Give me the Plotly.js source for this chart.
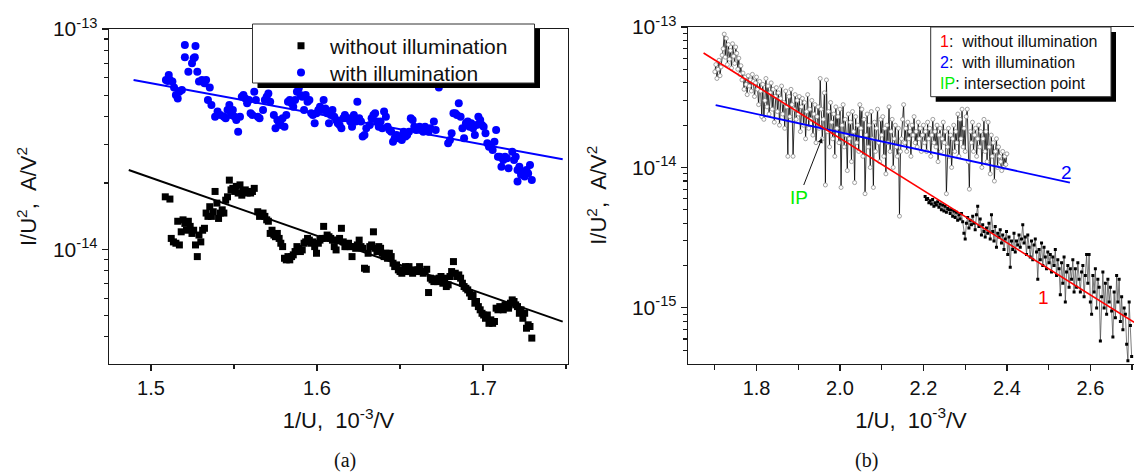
<!DOCTYPE html>
<html>
<head>
<meta charset="utf-8">
<script src="https://cdn.plot.ly/plotly-3.0.1.min.js"></script>
<style>html,body{margin:0;padding:0;background:#fff;}#chart{width:1134px;height:473px;}</style>
</head>
<body>
<div id="chart"></div>
<script>
// ---------- Panel (a) data: I/U^2 in units of 1e-14 A/V^2 ----------
const UNIT_A = 1e-14;
const noIllumX = [1.5086,1.5114,1.5122,1.5135,1.5150,1.5161,1.5171,1.5182,1.5193,1.5204,1.5214,1.5225,1.5236,1.5247,1.5257,1.5268,1.5279,1.5289,1.5300,1.5311,1.5322,1.5332,1.5343,1.5354,1.5364,1.5375,1.5386,1.5397,1.5407,1.5418,1.5429,1.5439,1.5450,1.5461,1.5472,1.5482,1.5493,1.5504,1.5514,1.5525,1.5536,1.5547,1.5557,1.5568,1.5579,1.5590,1.5600,1.5611,1.5622,
1.5643,1.5654,1.5665,1.5675,1.5686,1.5697,1.5707,1.5718,1.5729,1.5740,1.5750,1.5761,1.5772,1.5782,1.5793,1.5804,1.5815,1.5825,1.5836,1.5847,1.5857,1.5868,1.5879,1.5890,1.5900,1.5911,1.5922,1.5932,1.5943,1.5954,1.5965,1.5975,1.5986,1.5997,1.6008,1.6018,1.6029,1.6040,1.6050,1.6061,1.6072,1.6083,1.6093,1.6104,1.6115,1.6125,1.6136,1.6147,1.6158,1.6168,1.6179,1.6190,1.6200,1.6211,1.6222,1.6233,1.6243,1.6254,1.6265,1.6275,1.6286,1.6297,1.6308,1.6318,1.6329,1.6340,1.6350,1.6361,1.6372,1.6383,1.6393,1.6404,1.6415,1.6425,1.6436,1.6447,1.6458,1.6468,1.6479,1.6490,1.6500,1.6511,1.6522,1.6533,1.6543,1.6554,1.6565,1.6576,1.6586,1.6597,1.6608,1.6618,1.6629,1.6640,1.6651,1.6661,1.6672,1.6683,1.6693,1.6704,1.6715,1.6726,1.6736,1.6747,1.6758,1.6768,1.6779,1.6790,1.6801,1.6811,1.6822,1.6833,1.6843,1.6854,1.6865,1.6876,1.6886,1.6897,1.6908,1.6919,1.6929,1.6940,1.6951,1.6961,1.6972,1.6983,1.6994,1.7004,1.7015,1.7026,1.7036,1.7047,1.7058,1.7069,1.7079,1.7090,1.7101,1.7111,1.7122,1.7133,1.7144,1.7154,1.7165,1.7176,1.7187,1.7197,1.7208,1.7219,1.7229,1.7240,1.7251,1.7262,1.7272,1.7283,1.7294];
const noIllumY = [1.73,1.69,1.12,1.08,1.065,1.34,1.046,1.20,1.36,1.31,1.22,1.34,1.27,1.18,1.22,1.046,0.926,1.16,1.08,1.22,1.245,1.46,1.41,1.56,1.41,1.48,1.83,1.62,1.38,1.46,1.51,1.46,1.67,1.73,2.06,1.86,1.89,1.83,1.93,1.80,1.96,1.76,1.83,1.86,1.80,1.83,1.80,1.83,1.89,
1.48,1.41,1.43,1.46,1.41,1.36,1.34,1.18,1.22,1.16,1.14,1.18,1.12,1.065,1.028,0.91,0.895,0.926,0.895,0.926,0.943,0.976,1.028,1.01,0.976,0.993,1.065,1.08,1.12,1.10,1.065,1.08,1.028,0.959,1.065,1.10,1.12,1.27,1.12,1.16,1.14,1.12,1.10,1.028,0.993,1.10,1.12,1.245,1.08,1.028,1.028,1.065,1.028,0.926,1.028,1.01,1.046,1.10,1.028,1.01,0.82,0.811,0.959,1.028,1.046,1.20,1.01,0.976,1.028,1.01,0.959,0.926,0.959,0.91,0.959,0.926,0.864,0.834,0.849,0.806,0.792,0.778,0.806,0.834,0.792,0.834,0.792,0.778,0.806,0.792,0.806,0.834,0.792,0.778,0.792,0.811,0.636,0.739,0.726,0.713,0.734,0.713,0.739,0.752,0.701,0.739,0.677,0.689,0.752,0.792,0.879,0.778,0.752,0.765,0.739,0.701,0.677,0.665,0.654,0.633,0.61,0.62,0.569,0.579,0.549,0.531,0.512,0.503,0.486,0.503,0.461,0.478,0.461,0.47,0.54,0.531,0.549,0.54,0.531,0.559,0.549,0.54,0.569,0.589,0.579,0.559,0.549,0.512,0.531,0.486,0.512,0.438,0.454,0.446,0.395];

const illumX = [1.5090,1.5101,1.5107,1.5114,1.5129,1.5139,1.5150,1.5161,1.5171,1.5186,1.5204,1.5204,1.5225,1.5247,1.5257,1.5264,1.5268,1.5279,1.5289,1.5307,1.5322,1.5332,1.5343,1.5354,1.5364,1.5386,1.5401,1.5418,1.5439,1.5450,1.5461,1.5472,1.5482,1.5493,1.5504,1.5514,1.5525,1.5536,1.5547,1.5557,1.5568,1.5579,1.5590,1.5600,1.5611,1.5622,1.5632,1.5643,1.5654,1.5675,1.5686,1.5697,1.5707,1.5718,1.5740,1.5750,1.5761,1.5772,1.5782,1.5793,1.5804,1.5815,1.5825,1.5836,1.5847,1.5857,1.5868,1.5879,1.5890,1.5900,1.5911,1.5922,1.5932,1.5943,1.5954,1.5965,1.5975,1.5986,1.5997,1.6008,1.6018,1.6029,1.6040,1.6050,1.6061,1.6072,1.6083,1.6093,1.6104,1.6115,1.6125,1.6136,1.6147,1.6158,1.6168,1.6179,1.6190,1.6200,1.6211,1.6222,1.6233,1.6243,1.6254,1.6265,1.6275,1.6286,1.6297,1.6318,1.6329,1.6340,1.6350,1.6361,1.6372,1.6383,1.6393,1.6404,1.6415,1.6425,1.6436,1.6447,1.6458,1.6468,1.6479,1.6490,1.6500,1.6511,1.6522,1.6533,1.6543,1.6554,1.6565,1.6576,1.6586,1.6597,1.6608,1.6618,1.6629,1.6640,1.6651,1.6661,1.6672,1.6683,1.6704,1.6715,1.6734,1.6790,1.6801,1.6811,1.6822,1.6833,1.6843,1.6854,1.6865,1.6876,1.6886,1.6897,1.6908,1.6919,1.6929,1.6940,1.6951,1.6961,1.6972,1.6983,1.6994,1.7004,1.7015,1.7026,1.7036,1.7047,1.7058,1.7069,1.7079,1.7090,1.7101,1.7111,1.7122,1.7133,1.7144,1.7154,1.7176,1.7187,1.7197,1.7208,1.7219,1.7229,1.7240,1.7251,1.7262,1.7272,1.7283,1.7294,1.7208];
const illumY = [5.87,5.81,6.18,5.87,5.77,5.43,5.02,4.84,5.19,5.28,8.46,7.44,6.40,6.99,7.36,7.44,8.38,6.40,5.77,5.87,5.67,5.87,4.76,5.43,4.52,4.00,4.22,4.07,4.00,3.93,4.29,4.52,4.07,4.29,4.00,3.86,3.42,4.00,4.93,5.02,4.84,4.60,4.76,4.14,4.07,5.19,4.76,4.00,3.93,4.29,4.76,4.93,5.10,4.68,4.07,3.54,3.86,3.73,3.67,3.93,3.60,4.07,4.68,4.76,4.60,4.44,4.76,5.19,5.38,5.02,4.93,4.29,5.02,4.68,4.76,4.14,4.07,3.73,4.14,4.29,4.44,4.29,4.76,4.36,4.14,3.73,4.07,4.29,4.00,3.86,3.73,3.67,3.54,3.93,4.07,3.93,3.93,3.80,3.60,4.07,3.80,4.68,3.93,3.80,3.25,3.30,3.54,3.67,3.93,4.07,4.14,3.80,3.60,3.80,3.54,4.22,4.00,3.60,3.48,3.42,3.08,3.19,3.30,3.19,3.25,3.13,3.42,3.25,3.30,3.42,3.93,3.86,3.60,3.48,3.54,3.60,3.54,3.42,3.60,3.48,3.42,3.54,3.80,3.48,5.43,3.03,3.13,3.36,4.14,4.14,4.07,4.60,4.00,3.54,3.19,3.73,3.80,3.60,3.73,3.54,3.30,3.67,4.00,3.86,3.67,3.60,3.36,3.03,2.92,2.97,2.82,3.08,3.48,2.63,2.63,2.37,2.54,2.63,2.59,2.33,2.77,2.54,2.63,2.29,2.37,2.18,2.25,2.14,2.29,2.21,2.41,2.06,2.03];

// linear fits (end points), panel (a)
const fitNoIllumX = [1.4866, 1.748];
const fitNoIllumY = [2.29e-14, 4.69e-15];
const fitIllumX = [1.4895, 1.748];
const fitIllumY = [5.87e-14, 2.56e-14];

// ---------- Panel (b) data ----------
// series with open circles, values in 1e-14 A/V^2
const UNIT_B1 = 1e-14;
const seriesOpenX = [
1.7000,1.7025,1.7050,1.7075,1.7100,1.7125,1.7150,1.7175,1.7200,1.7225,1.7250,1.7275,1.7300,1.7325,1.7350,1.7375,1.7400,1.7425,1.7450,1.7475,
1.7500,1.7525,1.7550,1.7575,1.7600,1.7625,1.7650,1.7675,1.7700,1.7725,1.7750,1.7775,1.7800,1.7825,1.7850,1.7875,1.7900,1.7925,1.7950,1.7975,
1.8000,1.8025,1.8050,1.8075,1.8100,1.8125,1.8150,1.8175,1.8200,1.8225,1.8250,1.8275,1.8300,1.8325,1.8350,1.8375,1.8400,1.8425,1.8450,1.8475,
1.8500,1.8525,1.8550,1.8575,1.8600,1.8625,1.8650,1.8675,1.8700,1.8725,1.8750,1.8775,1.8800,1.8825,1.8850,1.8875,1.8900,1.8925,1.8950,1.8975,
1.9000,1.9025,1.9050,1.9075,1.9100,1.9125,1.9150,1.9175,1.9200,1.9225,1.9250,1.9275,1.9300,1.9325,1.9350,1.9375,1.9400,1.9425,1.9450,1.9475,
1.9500,1.9525,1.9550,1.9575,1.9600,1.9625,1.9650,1.9675,1.9700,1.9725,1.9750,1.9775,1.9800,1.9825,1.9850,1.9875,1.9900,1.9925,1.9950,1.9975,
2.0000,2.0025,2.0050,2.0075,2.0100,2.0125,2.0150,2.0175,2.0200,2.0225,2.0250,2.0275,2.0300,2.0325,2.0350,2.0375,2.0400,2.0425,2.0450,2.0475,
2.0500,2.0525,2.0550,2.0575,2.0600,2.0625,2.0650,2.0675,2.0700,2.0725,2.0750,2.0775,2.0800,2.0825,2.0850,2.0875,2.0900,2.0925,2.0950,2.0975,
2.1000,2.1025,2.1050,2.1075,2.1100,2.1125,2.1150,2.1175,2.1200,2.1225,2.1250,2.1275,2.1300,2.1325,2.1350,2.1375,2.1400,2.1425,2.1450,2.1475,
2.1500,2.1525,2.1550,2.1575,2.1600,2.1625,2.1650,2.1675,2.1700,2.1725,2.1750,2.1775,2.1800,2.1825,2.1850,2.1875,2.1900,2.1925,2.1950,2.1975,
2.2000,2.2025,2.2050,2.2075,2.2100,2.2125,2.2150,2.2175,2.2200,2.2225,2.2250,2.2275,2.2300,2.2325,2.2350,2.2375,2.2400,2.2425,2.2450,2.2475,
2.2500,2.2525,2.2550,2.2575,2.2600,2.2625,2.2650,2.2675,2.2700,2.2725,2.2750,2.2775,2.2800,2.2825,2.2850,2.2875,2.2900,2.2925,2.2950,2.2975,
2.3000,2.3025,2.3050,2.3075,2.3100,2.3125,2.3150,2.3175,2.3200,2.3225,2.3250,2.3275,2.3300,2.3325,2.3350,2.3375,2.3400,2.3425,2.3450,2.3475,
2.3500,2.3525,2.3550,2.3575,2.3600,2.3625,2.3650,2.3675,2.3700,2.3725,2.3750,2.3775,2.3800,2.3825,2.3850,2.3875,2.3900,2.3925,2.3950,2.3975,
2.4000];
const seriesOpenY = [
4.8,5.4,4.3,5.0,5.8,4.5,5.2,6.3,7.0,8.9,6.1,8.3,5.4,7.5,5.9,6.8,5.1,7.6,6.2,5.5,
7.2,6.5,5.0,6.0,4.6,5.3,4.2,4.7,3.6,4.4,3.9,3.3,4.5,3.8,4.2,3.5,4.6,4.1,3.2,4.0,
4.4,3.6,2.8,4.1,3.5,2.3,3.9,2.2,3.0,4.3,2.7,3.8,2.4,3.4,4.0,2.6,3.6,2.1,3.2,3.7,
2.5,3.4,2.0,3.1,3.8,2.4,2.9,1.9,3.5,2.7,1.2,3.2,2.3,3.6,2.8,1.2,2.6,3.3,2.2,3.0,
2.4,3.2,1.8,2.7,3.1,2.0,2.9,1.6,2.5,3.3,1.9,2.6,2.2,3.0,1.7,2.4,2.8,1.5,2.3,2.7,
1.9,4.3,2.6,1.6,2.2,3.4,0.75,4.2,1.8,2.5,1.4,2.9,2.1,1.6,2.4,1.2,2.7,1.9,2.3,1.5,
2.6,0.72,2.0,2.8,1.4,2.2,1.7,0.95,2.4,1.6,2.1,1.1,2.5,1.8,0.78,2.3,1.5,2.0,1.3,2.8,
1.9,2.6,1.2,2.2,0.65,1.7,2.4,1.4,2.0,1.0,2.5,1.6,0.72,2.1,1.3,1.9,2.6,1.5,1.1,2.2,
1.7,2.3,1.2,1.9,0.9,2.0,1.5,2.7,1.3,1.8,2.2,1.0,1.6,2.0,1.4,1.2,1.9,0.45,1.3,1.6,
2.2,2.8,1.5,1.9,1.3,2.1,1.6,1.8,1.2,2.0,1.7,2.3,1.5,1.8,1.4,2.1,1.6,1.9,1.3,1.7,
2.0,1.5,1.8,1.3,2.1,1.6,1.9,1.2,1.7,2.2,1.5,1.8,1.4,2.0,1.1,1.7,1.9,1.3,1.6,2.1,
1.5,1.8,0.65,1.4,1.9,1.2,1.7,1.0,1.6,2.0,1.3,1.8,1.5,2.4,1.2,2.2,1.6,2.6,1.4,1.9,
1.3,2.3,2.6,1.1,0.7,1.8,1.5,2.1,1.3,1.7,1.9,1.2,1.6,2.0,1.4,1.8,1.0,1.6,2.2,1.3,
1.8,1.1,2.1,1.4,0.9,1.7,1.2,1.5,0.8,1.3,1.6,1.0,1.4,1.2,1.1,0.95,1.3,1.0,1.2,1.05,
1.25];

// series with filled squares, values in 1e-15 A/V^2
const UNIT_B2 = 1e-15;
const seriesFilledX = [
2.204,2.207,2.210,2.213,2.216,2.219,2.222,2.225,2.228,2.231,
2.234,2.237,2.240,2.243,2.246,2.249,2.252,2.255,2.258,2.261,
2.264,2.267,2.270,2.273,2.276,2.279,2.282,2.285,2.288,2.291,
2.294,2.297,2.300,2.303,2.306,2.309,2.312,2.315,2.318,2.321,
2.324,2.327,2.330,2.333,2.336,2.339,2.342,2.345,2.348,2.351,
2.354,2.357,2.360,2.363,2.366,2.369,2.372,2.375,2.378,2.381,
2.384,2.387,2.390,2.393,2.396,2.399,2.402,2.405,2.408,2.411,
2.414,2.417,2.420,2.423,2.426,2.429,2.432,2.435,2.438,2.441,
2.444,2.447,2.450,2.453,2.456,2.459,2.462,2.465,2.468,2.471,
2.474,2.477,2.480,2.483,2.486,2.489,2.492,2.495,2.498,2.501,
2.504,2.507,2.510,2.513,2.516,2.519,2.522,2.525,2.528,2.531,
2.534,2.537,2.540,2.543,2.546,2.549,2.552,2.555,2.558,2.561,
2.564,2.567,2.570,2.573,2.576,2.579,2.582,2.585,2.588,2.591,
2.594,2.597,2.600,2.603,2.606,2.609,2.612,2.615,2.618,2.621,
2.624,2.627,2.630,2.633,2.636,2.639,2.642,2.645,2.648,2.651,
2.654,2.657,2.660,2.663,2.666,2.669,2.672,2.675,2.678,2.681,
2.684,2.687,2.690,2.693,2.696,2.699];
const seriesFilledY = [
6.2,5.9,6.0,5.6,5.8,5.5,5.9,5.3,5.6,5.4,
5.7,5.2,5.5,5.0,5.4,4.9,5.3,4.8,5.1,5.0,
4.7,5.0,4.5,4.9,4.4,4.8,4.2,4.6,4.3,4.7,
4.1,3.4,3.1,4.0,4.4,3.7,4.2,3.9,4.5,4.0,
3.6,4.6,5.3,3.8,4.3,3.3,3.9,3.5,3.2,3.7,
3.4,4.0,3.1,4.6,3.5,3.0,3.8,2.7,3.4,3.2,
3.6,2.9,3.3,2.6,3.1,3.5,2.4,3.2,1.95,3.0,
2.6,3.4,2.5,3.0,2.8,3.3,2.7,3.1,3.9,2.9,
3.2,2.4,3.3,2.7,2.3,3.0,2.2,2.8,3.1,2.5,
1.6,2.6,2.2,2.9,2.0,2.7,2.3,1.9,2.5,2.1,
2.4,1.8,2.3,2.0,2.6,1.7,2.2,1.9,1.24,2.1,
1.5,2.3,1.1,1.8,2.0,1.4,1.9,1.6,2.2,1.3,
1.9,1.4,2.1,1.6,1.3,1.8,2.0,1.2,1.7,2.4,
1.5,2.4,1.1,0.9,1.7,1.3,1.9,1.0,1.6,1.4,
0.58,1.2,1.8,1.0,1.5,0.9,1.6,1.1,1.4,0.95,
0.62,1.3,0.85,1.7,1.1,1.6,0.8,1.2,0.7,1.0,
0.9,0.55,0.42,1.1,0.75,0.45];

// linear fits (end points), panel (b)
const fit1X = [1.673, 2.705];
const fit1Y = [6.53e-14, 7.9e-16];
const fit2X = [1.702, 2.551];
const fit2Y = [2.78e-14, 7.8e-15];

// tick labels
const xTicksA = [1.5, 1.6, 1.7];
const xTickTextA = ['1.5', '1.6', '1.7'];
const xMinorA = [1.55, 1.65, 1.75];
const yTicksA = [1e-14, 1e-13];
const yTickTextA = ['10<sup>-14</sup>', '10<sup>-13</sup>'];
const yMinorA = [4e-15,5e-15,6e-15,7e-15,8e-15,9e-15,2e-14,3e-14,4e-14,5e-14,6e-14,7e-14,8e-14,9e-14];
const xTicksB = [1.8, 2.0, 2.2, 2.4, 2.6];
const xTickTextB = ['1.8', '2.0', '2.2', '2.4', '2.6'];
const xMinorB = [1.7, 1.9, 2.1, 2.3, 2.5, 2.7];
const yTicksB = [1e-15, 1e-14, 1e-13];
const yTickTextB = ['10<sup>-15</sup>', '10<sup>-14</sup>', '10<sup>-13</sup>'];
const yMinorB = [5e-16,6e-16,7e-16,8e-16,9e-16,2e-15,3e-15,4e-15,5e-15,6e-15,7e-15,8e-15,9e-15,2e-14,3e-14,4e-14,5e-14,6e-14,7e-14,8e-14,9e-14];

// ---------- layout helpers (pixel -> paper) ----------
const W = 1134, H = 473;
const PX = v => v / W;
const PY = v => 1 - v / H;
const FONT = 'Liberation Sans, Arial, sans-serif';
const AX = '#1a1a1a';

const traces = [
  {x: noIllumX, y: noIllumY.map(v => v * UNIT_A), xaxis: 'x', yaxis: 'y', type: 'scatter', mode: 'markers',
   name: 'without illumination', legend: 'legend', marker: {symbol: 'square', size: 7, color: '#000000'}},
  {x: illumX, y: illumY.map(v => v * UNIT_A), xaxis: 'x', yaxis: 'y', type: 'scatter', mode: 'markers',
   name: 'with illumination', legend: 'legend2', marker: {symbol: 'circle', size: 8, color: '#0000ff'}},
  {x: fitNoIllumX, y: fitNoIllumY, xaxis: 'x', yaxis: 'y', mode: 'lines', showlegend: false,
   line: {color: '#000000', width: 2}},
  {x: fitIllumX, y: fitIllumY, xaxis: 'x', yaxis: 'y', mode: 'lines', showlegend: false,
   line: {color: '#0000ff', width: 2}},
  {x: seriesOpenX, y: seriesOpenY.map(v => v * UNIT_B1), xaxis: 'x2', yaxis: 'y2', mode: 'lines+markers', showlegend: false,
   line: {color: '#000000', width: 0.8},
   marker: {symbol: 'circle', size: 4, color: '#ffffff', line: {color: '#8a8a8a', width: 0.8}}},
  {x: seriesFilledX, y: seriesFilledY.map(v => v * UNIT_B2), xaxis: 'x2', yaxis: 'y2', mode: 'lines+markers', showlegend: false,
   line: {color: '#444444', width: 0.7},
   marker: {symbol: 'square', size: 3, color: '#000000'}},
  {x: fit2X, y: fit2Y, xaxis: 'x2', yaxis: 'y2', mode: 'lines', showlegend: false,
   line: {color: '#0000ff', width: 1.8}},
  {x: fit1X, y: fit1Y, xaxis: 'x2', yaxis: 'y2', mode: 'lines', showlegend: false,
   line: {color: '#ff0000', width: 1.6}}
];

const commonAxis = {
  showline: true, linecolor: AX, linewidth: 1.3, mirror: true,
  ticks: 'outside', ticklen: 6, tickwidth: 1.2, tickcolor: AX,
  showgrid: false, zeroline: false,
  tickfont: {family: FONT, size: 20, color: '#111'}
};

const legendCommon = {xanchor: 'left', yanchor: 'top', bgcolor: 'rgba(0,0,0,0)', borderwidth: 0,
  itemwidth: 48, font: {family: FONT, size: 21, color: '#111'}};

const layout = {
  width: W, height: H,
  margin: {l: 0, r: 0, t: 0, b: 0},
  paper_bgcolor: '#ffffff', plot_bgcolor: '#ffffff',
  font: {family: FONT, color: '#111'},
  showlegend: true,
  legend: Object.assign({}, legendCommon, {x: PX(272), y: PY(25.6)}),
  legend2: Object.assign({}, legendCommon, {x: PX(272), y: PY(52.4)}),
  xaxis: Object.assign({}, commonAxis, {
    domain: [PX(109), PX(568)], range: [1.4747, 1.7512], anchor: 'y',
    tickmode: 'array', tickvals: xTicksA, ticktext: xTickTextA,
    minor: {tickmode: 'array', tickvals: xMinorA, ticks: 'outside', ticklen: 4, tickcolor: AX, showgrid: false},
    title: {text: '1/U,\u00a0\u00a010<sup>-3</sup>/V', font: {family: FONT, size: 22, color: '#111'}, standoff: 14}
  }),
  yaxis: Object.assign({}, commonAxis, {
    domain: [PY(364), PY(29)], type: 'log', range: [-14.521, -13], anchor: 'x',
    tickmode: 'array', tickvals: yTicksA, ticktext: yTickTextA,
    tickfont: {family: FONT, size: 21, color: '#111'},
    minor: {tickmode: 'array', tickvals: yMinorA, ticks: 'outside', ticklen: 4, tickcolor: AX, showgrid: false},
    title: {text: 'I/U<sup>2</sup>,\u00a0\u00a0A/V<sup>2</sup>', font: {family: FONT, size: 22, color: '#111'}, standoff: 10}
  }),
  xaxis2: Object.assign({}, commonAxis, {
    domain: [PX(688), 1], range: [1.6357, 2.7046], anchor: 'y2',
    tickmode: 'array', tickvals: xTicksB, ticktext: xTickTextB,
    minor: {tickmode: 'array', tickvals: xMinorB, ticks: 'outside', ticklen: 5, tickcolor: AX, showgrid: false},
    title: {text: '1/U,\u00a0\u00a010<sup>-3</sup>/V', font: {family: FONT, size: 22, color: '#111'}, standoff: 14}
  }),
  yaxis2: Object.assign({}, commonAxis, {
    domain: [PY(363.5), PY(27)], type: 'log', range: [-15.396, -13], anchor: 'x2',
    tickmode: 'array', tickvals: yTicksB, ticktext: yTickTextB,
    tickfont: {family: FONT, size: 21, color: '#111'},
    minor: {tickmode: 'array', tickvals: yMinorB, ticks: 'outside', ticklen: 4, tickcolor: AX, showgrid: false},
    title: {text: 'I/U<sup>2</sup>,\u00a0\u00a0A/V<sup>2</sup>', font: {family: FONT, size: 22, color: '#111'}, standoff: 19}
  }),
  shapes: [
    // legend (a): shadow + box
    {type: 'rect', xref: 'paper', yref: 'paper', layer: 'above',
     x0: PX(257.5), x1: PX(540), y0: PY(88), y1: PY(29), fillcolor: '#000', line: {width: 0}},
    {type: 'rect', xref: 'paper', yref: 'paper', layer: 'above',
     x0: PX(252.5), x1: PX(534.5), y0: PY(83), y1: PY(24), fillcolor: '#fff', line: {color: '#333', width: 1}},
    // legend (b): shadow + box
    {type: 'rect', xref: 'paper', yref: 'paper', layer: 'above',
     x0: PX(935.7), x1: PX(1116), y0: PY(101.7), y1: PY(32), fillcolor: '#000', line: {width: 0}},
    {type: 'rect', xref: 'paper', yref: 'paper', layer: 'above',
     x0: PX(930.7), x1: PX(1111), y0: PY(96.7), y1: PY(27), fillcolor: '#fff', line: {color: '#333', width: 1}}
  ],
  annotations: [
    {xref: 'paper', yref: 'paper', x: PX(332), y: PY(460), yanchor: 'middle', text: '(a)', showarrow: false,
     font: {family: 'Liberation Serif, DejaVu Serif, serif', size: 20, color: '#111'}},
    {xref: 'paper', yref: 'paper', x: PX(880), y: PY(460), yanchor: 'middle', text: '(b)', showarrow: false,
     font: {family: 'Liberation Serif, DejaVu Serif, serif', size: 20, color: '#111'}},
    {xref: 'paper', yref: 'paper', x: PX(938), y: PY(31), xanchor: 'left', yanchor: 'top', align: 'left', showarrow: false,
     text: '<span style="color:#ff0000">1</span>:\u00a0\u00a0without illumination<br>' +
           '<span style="color:#0000ff">2</span>:\u00a0\u00a0with illumination<br>' +
           '<span style="color:#00ee00">IP</span>: intersection point',
     font: {family: FONT, size: 16, color: '#111'}},
    {xref: 'x2', yref: 'y2', x: 1.957, y: Math.log10(1.62e-14), ax: -23, ay: 59,
     text: 'IP', showarrow: true, arrowhead: 2, arrowsize: 1, arrowwidth: 1, arrowcolor: '#111',
     font: {family: FONT, size: 19, color: '#00ee00'}},
    {xref: 'x2', yref: 'y2', x: 2.543, y: Math.log10(9.2e-15), text: '2', showarrow: false,
     font: {family: FONT, size: 19, color: '#0000ff'}},
    {xref: 'x2', yref: 'y2', x: 2.488, y: Math.log10(1.18e-15), text: '1', showarrow: false,
     font: {family: FONT, size: 19, color: '#ff0000'}}
  ]
};

Plotly.newPlot('chart', traces, layout, {staticPlot: true, displayModeBar: false});
</script>
</body>
</html>
